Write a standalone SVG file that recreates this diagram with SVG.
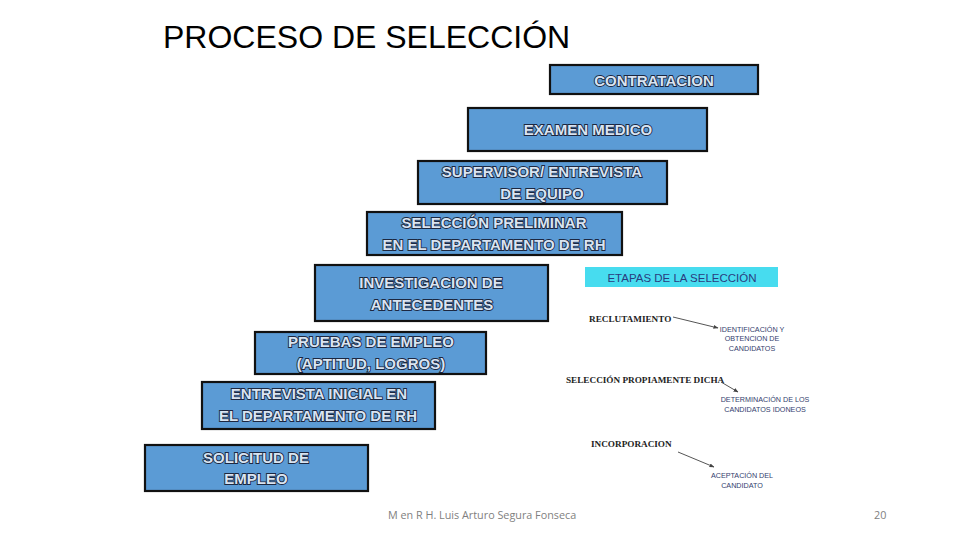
<svg xmlns="http://www.w3.org/2000/svg" width="960" height="540" viewBox="0 0 960 540">
<style>
.box{fill:#5b9bd5;stroke:#111;stroke-width:2.2}
.bt{font-family:"Liberation Sans",Arial,sans-serif;font-weight:bold;font-size:15px;fill:#d9e4f2;stroke:#1c2740;stroke-width:1.8;paint-order:stroke fill;text-anchor:middle}
.title{font-family:"Liberation Sans",Arial,sans-serif;font-size:32px;fill:#000}
.foot{font-family:"Open Sans","Liberation Sans",sans-serif;font-size:10.8px;fill:#7f7f7f}
.serif{font-family:"Liberation Serif","Times New Roman",serif;font-weight:bold;font-size:9.2px;fill:#222}
.small{font-family:"Liberation Sans",Arial,sans-serif;font-size:7.2px;fill:#33406e;text-anchor:middle}
.arr{stroke:#555;stroke-width:1;fill:none;marker-end:url(#ah)}
</style>
<defs>
<marker id="ah" viewBox="0 0 10 10" refX="9" refY="5" markerWidth="5" markerHeight="5" orient="auto"><path d="M0,1 L10,5 L0,9 z" fill="#444"/></marker>
</defs>
<rect width="960" height="540" fill="#fff"/>
<text class="title" x="163" y="48">PROCESO DE SELECCIÓN</text>

<g id="contratacion"><rect class="box" x="550" y="65" width="208" height="29"/><text class="bt" x="654" y="86">CONTRATACION</text></g>
<g id="examen"><rect class="box" x="468" y="108" width="239" height="43"/><text class="bt" x="588" y="135">EXAMEN MEDICO</text></g>
<g id="supervisor"><rect class="box" x="418" y="161" width="249" height="43"/><text class="bt" x="542" y="177">SUPERVISOR/ ENTREVISTA</text><text class="bt" x="542" y="199">DE EQUIPO</text></g>
<g id="preliminar"><rect class="box" x="367" y="212" width="255" height="43"/><text class="bt" x="494" y="228">SELECCIÓN PRELIMINAR</text><text class="bt" x="494" y="250">EN EL DEPARTAMENTO DE RH</text></g>
<g id="investigacion"><rect class="box" x="315" y="265" width="233" height="56"/><text class="bt" x="431" y="288">INVESTIGACION DE</text><text class="bt" x="432" y="310">ANTECEDENTES</text></g>
<g id="pruebas"><rect class="box" x="255" y="332" width="231" height="42"/><text class="bt" x="371" y="347">PRUEBAS DE EMPLEO</text><text class="bt" x="371" y="369">(APTITUD, LOGROS)</text></g>
<g id="entrevista"><rect class="box" x="202" y="382" width="233" height="47"/><text class="bt" x="319" y="399">ENTREVISTA INICIAL EN</text><text class="bt" x="318" y="421">EL DEPARTAMENTO DE RH</text></g>
<g id="solicitud"><rect class="box" x="145" y="445" width="223" height="46"/><text class="bt" x="256" y="463">SOLICITUD DE</text><text class="bt" x="256" y="484">EMPLEO</text></g>

<g id="etapas">
<rect x="585" y="267" width="193" height="20" fill="#47dcef"/>
<text x="682" y="282" font-family="Liberation Sans,Arial,sans-serif" font-size="11.5" fill="#2a3c80" text-anchor="middle">ETAPAS DE LA SELECCIÓN</text>
<text class="serif" x="589" y="322">RECLUTAMIENTO</text>
<text class="small" x="752" y="332">IDENTIFICACIÓN Y</text>
<text class="small" x="752" y="341">OBTENCION DE</text>
<text class="small" x="752" y="351">CANDIDATOS</text>
<text class="serif" x="566" y="383">SELECCIÓN PROPIAMENTE DICHA</text>
<text class="small" x="765" y="402">DETERMINACIÓN DE LOS</text>
<text class="small" x="765" y="412">CANDIDATOS IDONEOS</text>
<text class="serif" x="591" y="447">INCORPORACION</text>
<text class="small" x="742" y="478">ACEPTACIÓN DEL</text>
<text class="small" x="742" y="488">CANDIDATO</text>
</g>
<g id="connectors">
<path class="arr" d="M673,317 L718,328"/>
<path class="arr" d="M721,382 L738,392"/>
<path class="arr" d="M678,452 L714,467"/>
</g>

<text class="foot" x="388" y="519">M en R H. Luis Arturo Segura Fonseca</text>
<text class="foot" x="874" y="519">20</text>
</svg>
